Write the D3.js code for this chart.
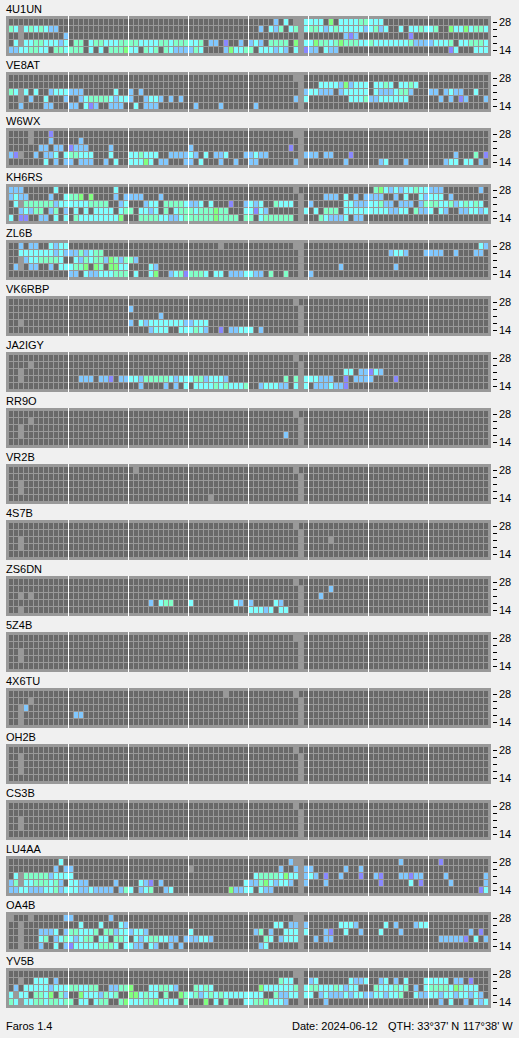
<!DOCTYPE html>
<html><head><meta charset="utf-8">
<script src="https://cdn.jsdelivr.net/npm/d3@7/dist/d3.min.js"></script>
<style>
html,body{margin:0;padding:0;background:#f0f0f0}
svg{display:block}
text{font-family:"Liberation Sans",Arial,sans-serif;font-size:11px;fill:#000}
</style></head><body>
<script>
// Rows run top (28 MHz) to bottom (14 MHz). Tokens are "startSlot:levels".
// a..e = signal level, m = no data
const stations = ["4U1UN","VE8AT","W6WX","KH6RS","ZL6B","VK6RBP","JA2IGY","RR9O","VR2B","4S7B","ZS6DN","5Z4B","4X6TU","OH2B","CS3B","LU4AA","OA4B","YV5B"];
const bands = [28,24,21,18,14];
const tickLabels = [28,14];
const levels = ["a","b","c","d","e","m"];
const levelColors = ["#8888ff","#80c8ff","#80ffff","#80ffc8","#80ff80","#999999"];
const outageCells = [[0,57],[1,58],[2,58],[3,58],[4,58]];

const r4U1UN = [
 "53:b 55:c 58:m 59:cccc 64:e 66:ccccddccc",
 "0:dcmcdcdcbb 50:b 52:cbd 56:cd 59:cddcbcdcccccb 72:cdbc 78:c 80:ccdccd 88:eccecddc",
 "2:m 11:b 67:bab 80:a",
 "1:cmccddcccbc 13:dd 16:cddccc 22:ddddcccc 30:ddcd 34:ddccd 40:bb 43:a 46:b 48:bcb 52:dddd 57:e 59:cceddcde 67:dddccd 73:cccccccd 81:bbbbcccd 90:ccdddc",
 "0:bbccddcc 9:ddcddd 16:c 18:c 20:dddecc 27:dcd 31:dcbbbbdc 43:becc 47:dd 50:cc 52:cbcb 57:c 59:abb 63:cbb 88:ac 93:ccc"];
const rVE8AT = [
 "58:m",
 "62:ccccbebccc 73:ccdc 78:ccdc",
 "0:dcmc 5:c 8:bcccbbb 21:c 24:b 26:b 59:bccbbb 66:bccccc 73:cbb 76:bcddb 84:bb 87:bcbb 93:c",
 "2:m 4:b 7:c 11:b 14:bcddddcbccb 27:bccb 32:b 34:b 57:b 59:c 68:cccdbbccccc 79:c 86:b 88:b 90:ab 95:b",
 "2:b 7:bb 12:bb 15:cab 20:bbb 25:c 27:bbb 37:b 42:b 49:b"];
const rW6WX = [
 "4:m 8:a 58:m",
 "4:m 8:b 14:b",
 "6:bb 9:bb 12:abbb 20:b 36:b 56:a",
 "0:bam 5:b 7:bbc 11:cddccc 20:c 24:ccdccc 32:bbbbcb 39:c 41:bbc 47:bbcb 51:b 59:bbb 63:bb 68:a 89:b 93:d 95:a",
 "7:c 9:b 11:bb 14:bbb 19:b 21:c 24:ccce 28:c 30:bb 35:bb 38:c 42:b 45:b 48:bb 57:b 67:b 74:bc 79:b 87:bcc 91:cc 94:b"];
const rKH6RS = [
 "0:bbb 9:c 21:c 73:decbcbccdccbbb 94:b",
 "0:bcbb 8:b 11:cdde 16:e 21:b 23:bbbb 30:b 63:bbb 67:c 69:b 71:bbbb 77:b 79:c 82:cbccc 88:b",
 "1:cmddddddbccccccdddd 22:bc 27:bcc 31:ddddcbbc 40:c 44:a 47:bcbc 53:dcc 56:c 60:b 67:ccbbb 72:ccdbb 78:bbb 82:bdddccdbcdcdc",
 "2:bcbdd 8:bd 11:b 13:c 15:c 17:cccc 22:cdd 26:ccbc 31:d 33:cdddcdddedd 47:ccac 51:b 59:c 61:c 63:ddd 67:cccccd 72:ccccbbcc 81:dbbc 86:cb 90:bbccbc",
 "0:c 2:aa 6:bb 9:c 11:c 13:dcccccccc 22:e 26:ddddccbbcdddddded 43:ddd 47:dd 50:cdddd 55:dd 62:dcbbbc 69:bb"];
const rZL6B = [
 "2:b 4:bb 8:cbcc 42:m 58:m 94:cb",
 "2:cccccccbcbbbdbcdd 76:bccb 83:bbbb 89:b 93:bb",
 "2:m 3:bccddddc 13:cbdcddbedbddb",
 "1:bm 4:bb 8:b 10:ccc 13:dde 17:ed 20:eecc 28:cb 66:b 77:b",
 "12:bb 15:cbbcccddd 25:c 28:ce 32:bcdadddc 41:cc 44:bbbccbb 52:d 55:d 60:b"];
const rVK6RBP = [
 "",
 "24:b",
 "30:b",
 "2:m 24:b 26:cbccccccc 35:bbccc",
 "28:bccc 34:cccdcb 42:a 44:bbccc 50:b"];
const rJA2IGY = [
 "",
 "4:m",
 "2:m 67:cc 70:bbacb",
 "2:m 14:bbb 18:bba 22:bbccbdddddcbcccddbcccb 55:d 57:d 59:cccbbb 67:a 69:bbbb 77:a",
 "26:b 31:b 33:b 35:c 37:ccccdcdcccd 50:bcccbb 57:c 59:c 61:bbbcbba"];
const rRR9O = ["","4:m","2:m","2:m 55:b",""];
const rVR2B = ["25:m","","2:m","2:m","40:m"];
const r4S7B = ["","","2:m 64:m","2:m",""];
const rZS6DN = [
 "",
 "64:b",
 "2:m 4:m 62:b",
 "28:b 30:cdd 36:c 45:cb 48:b 53:cb",
 "2:m 48:cccbc 54:cc"];
const r5Z4B = ["58:m","","2:m","2:m",""];
const r4X6TU = ["43:m","4:m","2:m 3:b","2:m 13:bb","2:m"];
const rOH2B = ["","2:m","2:m","2:m",""];
const rCS3B = ["","","2:m","2:m",""];
const rLU4AA = [
 "10:c 56:b 58:m 78:b 86:a",
 "9:b 11:bb 36:m 54:b 57:b 59:bb 67:b 70:b",
 "1:cmdddddbcccc 49:c 50:ddddcecc 59:bcb 63:a 66:b 70:a 73:ba 78:bbabb 87:b 95:b",
 "0:bdmccdddcdb 12:ccbb 21:b 26:cba 30:b 47:cbb 50:decbccb 59:b 63:b 74:a 80:c 82:a 88:b 95:b",
 "0:bbccbbbccdbcccbbcbbbb 22:bdc 26:bcd 31:bc 44:ebbcc 50:cbb 94:ac"];
const rOA4B = [
 "0:m 4:m 11:bb 20:b 58:m",
 "2:m 14:c 18:c 22:cb 53:cc 56:bb 59:b 66:cccb 75:c 77:b 81:bcc",
 "2:m 6:bbbc 11:bddcccd 19:ddbccbccb 36:c 49:bd 52:b 55:ccc 59:c 63:ba 67:c 70:b 74:c 78:b 92:b 94:a",
 "2:m 6:cd 9:bcdcbcdd 18:cc 21:ddc 25:cbcddccbb 35:bbbccb 51:dc 54:bccc 61:b 63:bb 86:bbbbba 93:c 95:b",
 "2:m 6:b 9:c 11:bacccccdddc 23:ccbb 28:cb 32:b 34:b 50:bc"];
const rYV5B = [
 "58:m",
 "2:m 5:ccc 9:b 54:dcc 60:bc 68:cbbc 74:bc 77:b 79:c 83:ccccc 89:bb 92:a",
 "1:b 3:cccccbcccddccdd 20:bbdde 28:ccddcb 37:dcdc 50:eccccccd 59:cddcccdcbcc 73:dcccdcd 81:b 83:cdddd 88:cedccc",
 "0:cmcc 5:ddce 10:db 14:ecccbdcd 24:eecdcc 31:d 34:edcdbcdcdcccccccc 53:dbbcc 59:cc 62:bcbbbcbccbb 73:ccbccd 81:cbb 84:ccbcc 89:bccbcb",
 "0:dcmc 4:cddcddcdd 14:cc 17:cdd 22:decccddec 31:ccc 35:d 39:e 41:c 43:d 47:ccdd 51:eccc 55:b 63:b 86:b 88:c 91:b 93:cbc"];

const stationRows = [r4U1UN,rVE8AT,rW6WX,rKH6RS,rZL6B,rVK6RBP,rJA2IGY,rRR9O,rVR2B,r4S7B,rZS6DN,r5Z4B,r4X6TU,rOH2B,rCS3B,rLU4AA,rOA4B,rYV5B];
const slots = d3.range(96);
const hourMarks = [12,24,36,48,60,72,84];
const footerLeft = "Faros 1.4";
const footerRight = [["Date: 2024-06-12",292],["QTH: 33°37' N",388],["117°38' W",463]];

const W=519,H=1038,pitch=56,panelH=40,panelL=6,panelR=491,pad=3;
const svg=d3.select("body").append("svg").attr("width",W).attr("height",H).attr("shape-rendering","crispEdges");
const py=d3.scaleBand().domain(stations).range([16,16+pitch*stations.length]);
const x=d3.scaleBand().domain(slots).range([panelL+pad,panelR-pad]).paddingInner(0.2);
const y=d3.scaleBand().domain(bands).range([pad,panelH-pad]).paddingInner(1/7);
const color=d3.scaleOrdinal().domain(levels).range(levelColors).unknown("#696969");

function cells(rows){
  const out=new Map();
  outageCells.forEach(([r,c])=>out.set(r+"_"+c,"m"));
  rows.forEach((s,r)=>s.split(" ").filter(Boolean).forEach(t=>{
    const [st,l]=t.split(":");
    [...l].forEach((ch,i)=>out.set(r+"_"+(+st+i),ch));
  }));
  const res=[];
  bands.forEach((b,r)=>slots.forEach(c=>res.push({band:b,slot:c,level:out.get(r+"_"+c)||"n"})));
  return res;
}

const p=svg.selectAll("g.panel").data(stations).join("g").attr("class","panel")
  .attr("transform",d=>`translate(0,${py(d)})`);
p.append("rect").attr("x",panelL).attr("y",0).attr("width",panelR-panelL).attr("height",panelH).attr("fill","#999999");
p.append("text").attr("x",panelL).attr("y",-3.5).attr("shape-rendering","auto").text(d=>d);
p.each(function(d,i){
  const g=d3.select(this);
  g.selectAll("rect.c").data(cells(stationRows[i])).join("rect").attr("class","c")
    .attr("x",e=>x(e.slot)).attr("y",e=>y(e.band))
    .attr("width",x.bandwidth()).attr("height",y.bandwidth())
    .attr("fill",e=>color(e.level));
  g.selectAll("rect.h").data(hourMarks).join("rect").attr("class","h")
    .attr("x",e=>x(e)-1).attr("y",0).attr("width",1).attr("height",panelH).attr("fill","#ffffff");
  const axis=d3.axisRight(y).tickSize(4).tickPadding(2)
    .tickFormat(t=>tickLabels.includes(t)?t:"");
  const a=g.append("g").attr("transform",`translate(493,0)`).call(axis);
  a.select(".domain").remove();
  a.selectAll("text").style("font-family",'"Liberation Sans",Arial,sans-serif').style("font-size","11px").attr("fill","#000");
});
svg.append("text").attr("x",6).attr("y",1030).text(footerLeft);
svg.selectAll("text.fr").data(footerRight).join("text").attr("class","fr").attr("x",d=>d[1]).attr("y",1030).text(d=>d[0]);
</script></body></html>
